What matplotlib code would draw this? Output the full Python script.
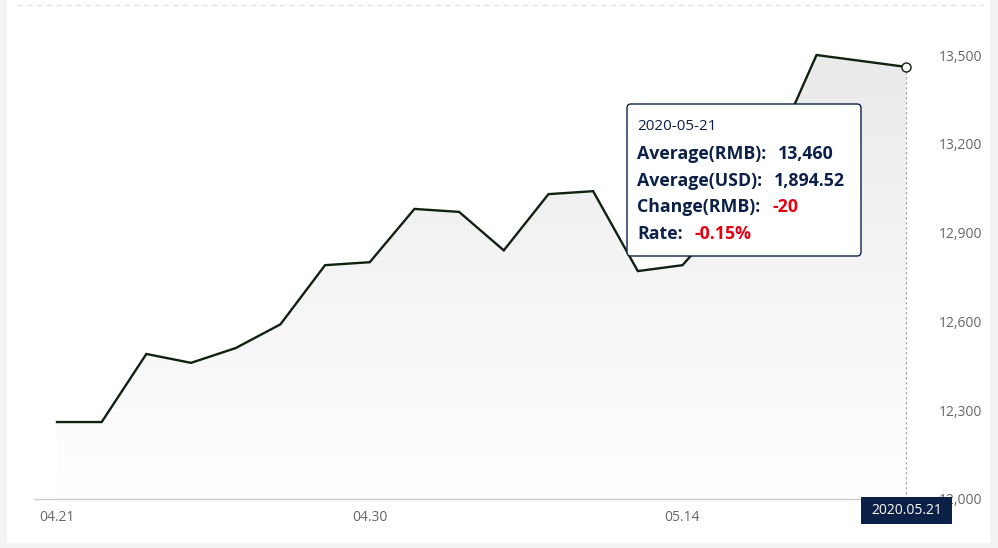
import numpy as np
import matplotlib
matplotlib.use('Agg')
import matplotlib.pyplot as plt
from matplotlib.colors import LinearSegmentedColormap
from matplotlib.patches import FancyBboxPatch, Rectangle
from matplotlib.lines import Line2D
from matplotlib.transforms import Bbox, TransformedBbox

# Daily average price (RMB), 2020-04-21 .. 2020-05-21
dates = ['04.21', '04.22', '04.23', '04.24', '04.27', '04.28', '04.29', '04.30',
         '05.06', '05.07', '05.08', '05.11', '05.12', '05.13', '05.14', '05.15',
         '05.18', '05.19', '05.20', '05.21']
avg_rmb = [12260, 12260, 12490, 12460, 12510, 12590, 12790, 12800,
           12980, 12970, 12840, 13030, 13040, 12770, 12790, 12960,
           13160, 13500, 13480, 13460]
y_ticks = [12000, 12300, 12600, 12900, 13200, 13500]
x_tick_labels = ['04.21', '04.30', '05.14']

# tooltip for the last day
tip_date = '2020-05-21'
tip_usd = 1894.52

W, H = 998, 548
NAVY = '#0c2147'
RED = '#e60012'
LINE = '#0f2110'
plt.rcParams['font.family'] = ['Open Sans', 'DejaVu Sans']


def fx(x):
    return x / W


def fy(y):
    return 1 - y / H


fig = plt.figure(figsize=(W / 100, H / 100), dpi=100)
fig.patch.set_facecolor('#f3f3f3')
# white card
fig.add_artist(Rectangle((fx(7), fy(543)), fx(990) - fx(7), fy(0) - fy(543),
                         transform=fig.transFigure, facecolor='white',
                         edgecolor='none', zorder=0))
# top dashed grid line
fig.add_artist(Line2D([fx(17), fx(983)], [fy(5), fy(5)], transform=fig.transFigure,
                      color='#e2e2e2', lw=1, ls=(0, (4, 3)), zorder=1))

ax = fig.add_axes([fx(34), fy(499), fx(930) - fx(34), fy(5) - fy(499)])
ax.set_facecolor('none')

x = np.arange(len(avg_rmb))
ax.set_xlim(-0.515, 19.54)
ax.set_ylim(12000, 13669)

# gradient area under the line
cmap = LinearSegmentedColormap.from_list('g', ['#ffffff', '#eaeaea'])
grad = np.linspace(0, 1, 256).reshape(-1, 1)
img = ax.imshow(grad, cmap=cmap, aspect='auto', origin='lower',
                extent=[x[0], x[-1], 12000, max(avg_rmb)], zorder=1)
poly = ax.fill_between(x, avg_rmb, 12000, facecolor='none', edgecolor='none')
img.set_clip_path(poly.get_paths()[0], transform=ax.transData)

ax.plot(x, avg_rmb, color=LINE, lw=1.7, zorder=3, solid_joinstyle='miter')
ax.plot(x[-1], avg_rmb[-1], 'o', ms=6.5, mfc='white', mec=LINE, mew=1.0, zorder=4)
# crosshair
ax.plot([x[-1], x[-1]], [12000, avg_rmb[-1]], color='#aaaaaa', lw=0.9,
        ls=(0, (2, 2)), zorder=2)

for s in ['top', 'left', 'right']:
    ax.spines[s].set_visible(False)
ax.spines['bottom'].set_color('#cccccc')
ax.spines['bottom'].set_linewidth(1)

ax.set_xticks([dates.index(d) for d in x_tick_labels])
ax.set_xticklabels(x_tick_labels)
ax.yaxis.tick_right()
ax.set_yticks(y_ticks)
ax.set_yticklabels([f'{v:,}' for v in y_ticks])
ax.tick_params(axis='both', length=0, labelsize=10, labelcolor='#666666')
ax.tick_params(axis='x', pad=8)
ax.tick_params(axis='y', pad=6)

clip = TransformedBbox(Bbox([[0, 0], [fx(984), 1]]), fig.transFigure)
for t in ax.yaxis.get_major_ticks():
    t.label2.set_clip_box(clip)
    t.label2.set_clip_on(True)

# overlay axes for the tooltip and the date label
ov = fig.add_axes([0, 0, 1, 1], zorder=10)
ov.set_xlim(0, W)
ov.set_ylim(H, 0)
ov.axis('off')

ov.add_patch(Rectangle((861, 497), 91, 27, facecolor=NAVY, edgecolor='none'))
ov.text(906.5, 510.5, tip_date.replace('-', '.'), color='white',
        fontsize=10, ha='center', va='center')

ov.add_patch(FancyBboxPatch((627, 104), 234, 152,
                            boxstyle='round,pad=0,rounding_size=4',
                            facecolor='white', edgecolor=NAVY, lw=1))

change = avg_rmb[-1] - avg_rmb[-2]
rate = change / avg_rmb[-2] * 100
ov.text(637, 127, tip_date, color=NAVY, fontsize=11, va='center', ha='left')
rows = [('Average(RMB):', f'{avg_rmb[-1]:,}', NAVY),
        ('Average(USD):', f'{tip_usd:,.2f}', NAVY),
        ('Change(RMB):', f'{change:,}', RED),
        ('Rate:', f'{rate:.2f}%', RED)]
for i, (lab, val, col) in enumerate(rows):
    t = ov.text(637, 154 + i * 26.7, lab, color=NAVY, fontsize=12.8,
                fontweight='bold', va='center', ha='left')
    ov.annotate(val, xy=(1, 0.5), xycoords=t, xytext=(8.5, 0),
                textcoords='offset points', color=col, fontsize=12.8,
                fontweight='bold', va='center', ha='left',
                annotation_clip=False)

fig.savefig('out.png', dpi=100, facecolor=fig.get_facecolor())
